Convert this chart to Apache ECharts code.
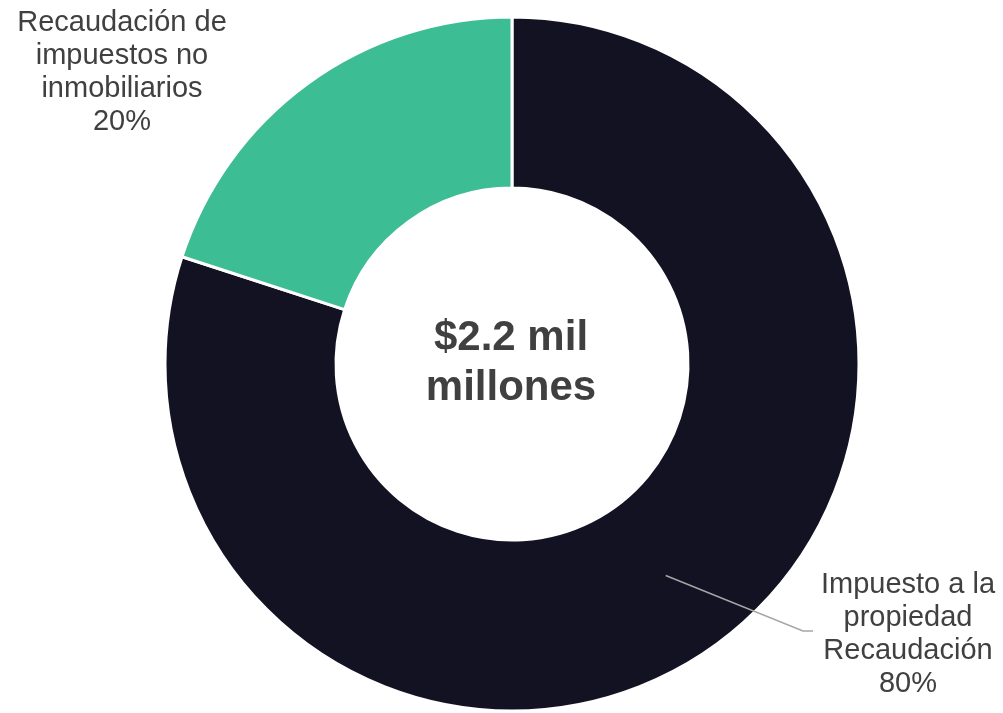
<!DOCTYPE html>
<html>
<head>
<meta charset="utf-8">
<script src="https://cdn.jsdelivr.net/npm/echarts@6/dist/echarts.min.js"></script>
<style>
html,body{margin:0;padding:0;background:#fff;}
#chart{width:1003px;height:713px;}
</style>
</head>
<body>
<div id="chart"></div>
<script>
// Data
const categories = ['Impuesto a la\npropiedad\nRecaudación', 'Recaudación de\nimpuestos no\ninmobiliarios'];
const shares = [80, 20];
const colors = ['#131222', '#3dbd93'];
const centerLabel = '$2.2 mil\nmillones';

// Layout constants
const CX = 512, CY = 364, R_IN = 176, R_OUT = 347;
const total = shares.reduce((a, b) => a + b, 0);
const midAngle0 = (90 - (shares[0] / total) * 360 / 2) * Math.PI / 180;
const midR = (R_IN + R_OUT) / 2;
const lineStart = [CX + midR * Math.cos(midAngle0), CY - midR * Math.sin(midAngle0)];

const chart = echarts.init(document.getElementById('chart'));
chart.setOption({
  backgroundColor: '#ffffff',
  animation: false,
  title: {
    text: centerLabel,
    left: CX - 1,
    top: CY - 1,
    padding: 0,
    textAlign: 'center',
    textVerticalAlign: 'middle',
    textStyle: {
      fontFamily: 'Liberation Sans, Arial, sans-serif',
      fontSize: 42,
      fontWeight: 'bold',
      color: '#404040',
      lineHeight: 50
    }
  },
  graphic: [{
    type: 'polyline',
    z: 100,
    silent: true,
    shape: { points: [lineStart, [803, 631], [813, 631]] },
    style: { stroke: '#a6a6a6', lineWidth: 1.5, fill: null }
  }],
  series: [{
    type: 'pie',
    center: [CX, CY],
    radius: [R_IN, R_OUT],
    startAngle: 90,
    clockwise: true,
    avoidLabelOverlap: false,
    itemStyle: { borderColor: '#ffffff', borderWidth: 3 },
    label: {
      show: true,
      formatter: '{b}\n{d}%',
      fontFamily: 'Liberation Sans, Arial, sans-serif',
      fontSize: 29,
      lineHeight: 33,
      color: '#404040',
      align: 'center'
    },
    labelLine: { show: false },
    labelLayout: function (params) {
      if (params.dataIndex === 0) {
        return { x: 908, y: 634, align: 'center', verticalAlign: 'middle' };
      }
      return { x: 122, y: 72, align: 'center', verticalAlign: 'middle' };
    },
    data: categories.map((name, i) => ({
      name: name,
      value: shares[i],
      itemStyle: { color: colors[i] }
    }))
  }]
});
</script>
</body>
</html>
